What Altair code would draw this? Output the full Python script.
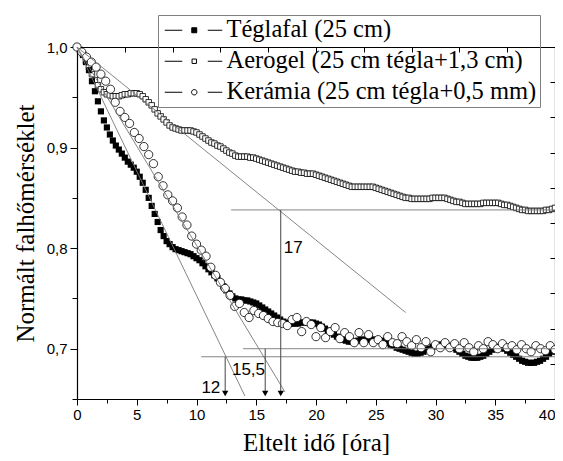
import altair as alt
import numpy as np
import pandas as pd

# ---------------- data ----------------
SERIES = ["Téglafal (25 cm)", "Aerogel (25 cm tégla+1,3 cm)", "Kerámia (25 cm tégla+0,5 mm)"]

TEGLA_STEP = 0.25
TEGLA = [
    1.000, 0.997, 0.992, 0.985, 0.977, 0.966, 0.956, 0.946, 0.936, 0.927,
    0.920, 0.913, 0.907, 0.902, 0.898, 0.894, 0.890, 0.886, 0.883, 0.880,
    0.876, 0.871, 0.865, 0.858, 0.850, 0.842, 0.834, 0.826, 0.818, 0.812,
    0.807, 0.804, 0.801, 0.799, 0.798, 0.797, 0.796, 0.795, 0.794, 0.792,
    0.790, 0.788, 0.785, 0.782, 0.779, 0.776, 0.773, 0.770, 0.766, 0.762,
    0.758, 0.755, 0.752, 0.750, 0.749, 0.749, 0.748, 0.748, 0.747, 0.746,
    0.745, 0.743, 0.741, 0.739, 0.737, 0.735, 0.733, 0.731, 0.729, 0.727,
    0.726, 0.725, 0.725, 0.725, 0.725, 0.726, 0.726, 0.726, 0.726, 0.726,
    0.725, 0.724, 0.722, 0.720, 0.718, 0.716, 0.714, 0.712, 0.710, 0.709,
    0.708, 0.707, 0.707, 0.707, 0.708, 0.709, 0.709, 0.709, 0.709, 0.709,
    0.709, 0.708, 0.708, 0.707, 0.706, 0.704, 0.703, 0.701, 0.700, 0.699,
    0.698, 0.697, 0.696, 0.695, 0.695, 0.696, 0.697, 0.699, 0.700, 0.702,
    0.703, 0.704, 0.704, 0.704, 0.703, 0.702, 0.701, 0.699, 0.697, 0.695,
    0.693, 0.692, 0.691, 0.691, 0.691, 0.692, 0.693, 0.695, 0.697, 0.699,
    0.701, 0.702, 0.701, 0.700, 0.698, 0.696, 0.694, 0.692, 0.690, 0.688,
    0.687, 0.686, 0.686, 0.686, 0.687, 0.688, 0.690, 0.692, 0.695, 0.697,
    0.699,
]

AERO_STEP = 0.25
AEROGEL = [
    1.000, 0.997, 0.993, 0.986, 0.980, 0.973, 0.967, 0.962, 0.958, 0.955,
    0.953, 0.952, 0.951, 0.951, 0.951, 0.952, 0.953, 0.953, 0.954, 0.954,
    0.954, 0.953, 0.951, 0.948, 0.945, 0.942, 0.938, 0.934, 0.931, 0.928,
    0.925, 0.922, 0.920, 0.919, 0.918, 0.917, 0.917, 0.917, 0.917, 0.916,
    0.915, 0.913, 0.911, 0.909, 0.907, 0.905, 0.904, 0.902, 0.901, 0.899,
    0.897, 0.895, 0.894, 0.892, 0.891, 0.891, 0.891, 0.891, 0.890, 0.890,
    0.889, 0.888, 0.887, 0.886, 0.885, 0.884, 0.883, 0.882, 0.881, 0.880,
    0.879, 0.878, 0.877, 0.876, 0.876, 0.875, 0.875, 0.874, 0.874, 0.874,
    0.873, 0.872, 0.871, 0.870, 0.869, 0.868, 0.867, 0.866, 0.865, 0.864,
    0.863, 0.862, 0.861, 0.861, 0.861, 0.861, 0.861, 0.861, 0.861, 0.861,
    0.860, 0.859, 0.858, 0.857, 0.856, 0.855, 0.854, 0.853, 0.852, 0.851,
    0.850, 0.850, 0.849, 0.849, 0.849, 0.849, 0.849, 0.849, 0.849, 0.850,
    0.850, 0.850, 0.850, 0.850, 0.849, 0.848, 0.847, 0.846, 0.846, 0.845,
    0.844, 0.844, 0.844, 0.844, 0.844, 0.844, 0.845, 0.845, 0.845, 0.845,
    0.845, 0.845, 0.844, 0.843, 0.843, 0.842, 0.841, 0.840, 0.839, 0.838,
    0.838, 0.837, 0.837, 0.837, 0.837, 0.837, 0.837, 0.838, 0.838, 0.839,
    0.840,
]

KERA_STEP = 0.4
KERAMIA = [
    1.000, 0.995, 0.990, 0.985, 0.980, 0.973, 0.966, 0.958, 0.945, 0.936,
    0.930, 0.924, 0.915, 0.909, 0.901, 0.893, 0.884, 0.871, 0.862, 0.853,
    0.847, 0.840, 0.831, 0.823, 0.812, 0.804, 0.798, 0.792, 0.781, 0.773,
    0.766, 0.760, 0.753, 0.742, 0.745, 0.736, 0.731, 0.738, 0.735, 0.733,
    0.730, 0.727, 0.726, 0.725, 0.723, 0.729, 0.731, 0.717, 0.727, 0.724,
    0.712, 0.721, 0.711, 0.717, 0.721, 0.710, 0.716, 0.712, 0.706, 0.716,
    0.706, 0.714, 0.706, 0.709, 0.704, 0.712, 0.706, 0.705, 0.712, 0.707,
    0.703, 0.709, 0.701, 0.707, 0.697, 0.704, 0.701, 0.706, 0.701, 0.705,
    0.700, 0.706, 0.701, 0.697, 0.703, 0.700, 0.707, 0.704, 0.700, 0.705,
    0.701, 0.703, 0.699, 0.704, 0.700, 0.697, 0.703, 0.700, 0.698, 0.703,
    0.699,
]

# tangent lines (start / end points)
TAN_X1 = [0.0, 0.0, 0.0]
TAN_Y1 = [1.0, 1.0, 1.0]
TAN_X2 = [14.05, 17.4, 27.5]
TAN_Y2 = [0.653, 0.657, 0.736]

# horizontal reference lines
HL_Y = [0.838, 0.700, 0.692]
HL_X1 = [12.9, 13.9, 10.4]
HL_X2 = [40.0, 40.0, 40.0]

# arrows down to the time axis
ARROW_X = [12.4, 15.75, 17.05]
ARROW_TOP = [0.692, 0.700, 0.838]
ARROW_TIP = 0.6555

# annotation labels
ANN_TEXT = ["12", "15,5", "17"]
ANN_X = [11.2, 14.35, 18.1]
ANN_Y = [0.661, 0.679, 0.800]

X_TICKS = [0, 2.5, 5, 7.5, 10, 12.5, 15, 17.5, 20, 22.5, 25, 27.5, 30, 32.5, 35, 37.5, 40]
Y_TICKS = [0.65, 0.7, 0.75, 0.8, 0.85, 0.9, 0.95, 1.0]
FRAME_TICKS = [0, 1, 2, 3, 4, 5, 6, 7, 8, 9, 10]

LEGEND_PATHS = [
    "M-2.95,0H-1.2M1.35,0H2.8M-0.25,-0.25H0.25V0.25H-0.25Z",
    "M-2.95,0H-1.2M1.35,0H2.8M-0.22,-0.22H0.22V0.22H-0.22Z",
    "M-2.95,0H-1.2M1.35,0H2.8M0.27,0A0.27,0.27,0,1,1,-0.27,0A0.27,0.27,0,1,1,0.27,0Z",
]
LEGEND_FILLS = ["black", "white", "white"]
LEGEND_STROKES = ["black", "black", "black"]

# ---------------- tables ----------------
def series_df(vals, step):
    return pd.DataFrame({"x": np.round(np.arange(len(vals)) * step, 3), "y": vals})

tegla_df = series_df(TEGLA, TEGLA_STEP)
aero_df = series_df(AEROGEL, AERO_STEP)
kera_df = series_df(KERAMIA, KERA_STEP)

lines_df = pd.DataFrame({
    "x": TAN_X1 + HL_X1,
    "y": TAN_Y1 + HL_Y,
    "x2": TAN_X2 + HL_X2,
    "y2": TAN_Y2 + HL_Y,
})
arrow_df = pd.DataFrame({"x": ARROW_X, "y": ARROW_TOP, "x2": ARROW_X, "y2": [ARROW_TIP] * 3})
head_df = pd.DataFrame({"x": ARROW_X, "y": [ARROW_TIP] * 3})
ann_df = pd.DataFrame({"x": ANN_X, "y": ANN_Y, "t": ANN_TEXT})
leg_df = pd.DataFrame({"s": SERIES, "x": [0.0] * 3, "y": [1.0] * 3})
frame_df = pd.DataFrame({"fx": FRAME_TICKS, "fy": FRAME_TICKS})

SANS = "Liberation Sans"
SERIF = "Liberation Serif"

xscale = alt.Scale(domain=[0, 40], nice=False, zero=False)
yscale = alt.Scale(domain=[0.65, 1.0], nice=False, zero=False)

xaxis = alt.Axis(
    values=X_TICKS,
    labelExpr="datum.value % 5 === 0 ? datum.label : ''",
    labelAlign={"condition": {"test": "datum.value === 40", "value": "right"}, "value": "center"},
    tickSize={"condition": {"test": "datum.value % 5 === 0", "value": 6}, "value": 4},
    labelFont=SANS, labelFontSize=15, labelColor="black", labelPadding=2,
    labelFlush=False, labelOverlap=False,
    domainColor="black", domainWidth=1.2, tickColor="black", grid=False,
    title="Eltelt idő [óra]", titleFont=SERIF, titleFontSize=25,
    titleFontWeight="normal", titleColor="black", titlePadding=8,
)
yaxis = alt.Axis(
    values=Y_TICKS,
    labelExpr="abs(datum.value*10 - round(datum.value*10)) < 0.001 ? replace(format(datum.value, '.1f'), '.', ',') : ''",
    tickSize={"condition": {"test": "abs(datum.value*10 - round(datum.value*10)) < 0.001", "value": 7}, "value": 5},
    labelFont=SANS, labelFontSize=15, labelColor="black", labelPadding=3,
    labelFlush=False, labelOverlap=False,
    domainColor="black", domainWidth=1.2, tickColor="black", grid=False,
    title="Normált falhőmérséklet", titleFont=SERIF, titleFontSize=25,
    titleFontWeight="normal", titleColor="black", titlePadding=8,
)

X = alt.X("x:Q", scale=xscale, axis=xaxis)
Y = alt.Y("y:Q", scale=yscale, axis=yaxis)

aero = alt.Chart(aero_df).mark_square(
    size=30, filled=True, fill="white", stroke="black", strokeWidth=0.8, opacity=1
).encode(x=X, y=Y)

tegla = alt.Chart(tegla_df).mark_square(
    size=38, filled=True, color="black", opacity=1
).encode(x=X, y=Y)

kera = alt.Chart(kera_df).mark_point(
    shape="circle", size=68, filled=True, fill="white", stroke="black", strokeWidth=0.8, opacity=1
).encode(x=X, y=Y)

lines = alt.Chart(lines_df).mark_rule(color="#777777", strokeWidth=0.9).encode(
    x=X, y=Y, x2="x2:Q", y2="y2:Q"
)
arrows = alt.Chart(arrow_df).mark_rule(color="#444444", strokeWidth=1).encode(
    x=X, y=Y, x2="x2:Q", y2="y2:Q"
)
heads = alt.Chart(head_df).mark_point(
    shape="triangle-down", size=40, filled=True, color="black", opacity=1
).encode(x=X, y=Y)

ann = alt.Chart(ann_df).mark_text(
    font=SANS, fontSize=17, color="black"
).encode(x=X, y=Y, text="t:N")

legend = alt.Legend(
    title=None, orient="none", legendX=81, legendY=-32,
    labelFont=SERIF, labelFontSize=24.5, labelColor="black", labelLimit=500,
    symbolSize=400, symbolStrokeWidth=1, symbolStrokeColor="black",
    symbolOffset=21, labelOffset=20, rowPadding=6, padding=3,
    strokeColor="#808080",
)
leg = alt.Chart(leg_df).transform_filter("false").mark_point(
    size=400, filled=False, stroke="black", strokeWidth=1, opacity=1
).encode(
    x=X, y=Y,
    shape=alt.Shape("s:N", scale=alt.Scale(domain=SERIES, range=LEGEND_PATHS), legend=legend),
    fill=alt.Fill("s:N", scale=alt.Scale(domain=SERIES, range=LEGEND_FILLS), legend=legend),
    stroke=alt.Stroke("s:N", scale=alt.Scale(domain=SERIES, range=LEGEND_STROKES), legend=legend),
)

main = alt.layer(aero, tegla, kera, lines, arrows, heads, ann, leg)

frame = alt.Chart(frame_df).mark_point(opacity=0).encode(
    x=alt.X("fx:Q", scale=alt.Scale(domain=[0, 10], nice=False, zero=False),
            axis=alt.Axis(orient="top", values=FRAME_TICKS, labels=False, title="",
                          tickSize={"expr": "-5"}, domainColor="black", domainWidth=1.2,
                          tickColor="black", grid=False)),
    y=alt.Y("fy:Q", scale=alt.Scale(domain=[0, 10], nice=False, zero=False),
            axis=alt.Axis(orient="right", values=FRAME_TICKS, labels=False, title="",
                          tickSize={"expr": "-5"}, domainColor="black", domainWidth=1.2,
                          tickColor="black", grid=False)),
)

chart = alt.layer(main, frame).resolve_scale(
    x="independent", y="independent"
).properties(
    width=478, height=352,
    autosize=alt.AutoSizeParams(type="none"),
    padding={"left": 69, "top": 39, "right": 0, "bottom": 60},
    background="white",
).configure_view(strokeWidth=0)

chart.save("out.html", embed_options={"renderer": "svg", "actions": False})
